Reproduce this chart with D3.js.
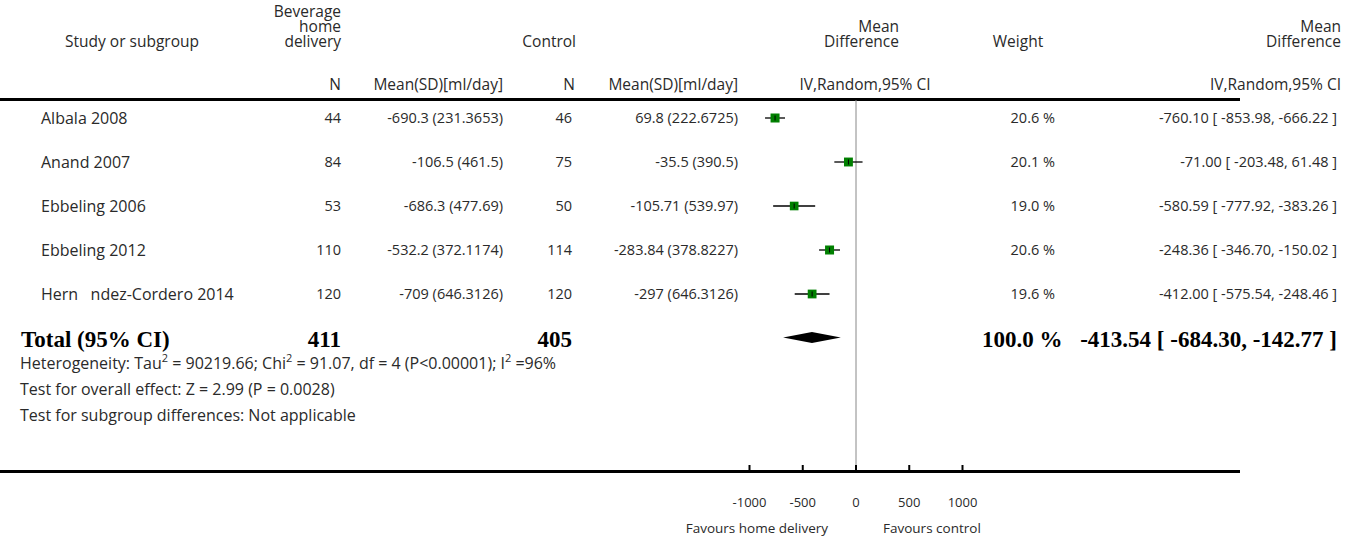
<!DOCTYPE html>
<html>
<head>
<meta charset="utf-8">
<title>Forest plot</title>
<script src="https://cdn.jsdelivr.net/npm/d3@7"></script>
<style>
  body { margin: 0; background: #fff; }
  svg text { font-family: "Open Sans", Lato, sans-serif; fill: #2a2a2a; white-space: pre; }
  svg text.bold { font-family: "Liberation Serif", serif; font-weight: bold; fill: #000; }
</style>
</head>
<body>
<div id="plot"></div>
<script>
// 各研究のデータ
var studies = ["Albala 2008", "Anand 2007", "Ebbeling 2006", "Ebbeling 2012", "Hern   ndez-Cordero 2014"];
var nTreat = [44, 84, 53, 110, 120];
var meanSdTreat = ["-690.3 (231.3653)", "-106.5 (461.5)", "-686.3 (477.69)", "-532.2 (372.1174)", "-709 (646.3126)"];
var nCtrl = [46, 75, 50, 114, 120];
var meanSdCtrl = ["69.8 (222.6725)", "-35.5 (390.5)", "-105.71 (539.97)", "-283.84 (378.8227)", "-297 (646.3126)"];
var md = [-760.10, -71.00, -580.59, -248.36, -412.00];
var ciLow = [-853.98, -203.48, -777.92, -346.70, -575.54];
var ciHigh = [-666.22, 61.48, -383.26, -150.02, -248.46];
var weights = [20.6, 20.1, 19.0, 20.6, 19.6];

// 合計
var totalN = [411, 405];
var totalMd = [-413.54, -684.30, -142.77];   // 推定値, 下限, 上限
var totalWeight = 100.0;

var axisTicks = [-1000, -500, 0, 500, 1000];
var notes = [
  "Heterogeneity: Tau\u00b2 = 90219.66; Chi\u00b2 = 91.07, df = 4 (P<0.00001); I\u00b2 =96%",
  "Test for overall effect: Z = 2.99 (P = 0.0028)",
  "Test for subgroup differences: Not applicable"
];
var favours = ["Favours home delivery", "Favours control"];

var W = 1357, H = 539;
var fsText = 16, fsHead = 15.5, fsNum = 14.5, fsBold = 23;
var svg = d3.select("#plot").append("svg").attr("width", W).attr("height", H);

var x = d3.scaleLinear().domain([-1000, 1000]).range([749.5, 962.5]);
var rowY = d3.scalePoint().domain(d3.range(studies.length)).range([118, 294]);
var boxSize = d3.scaleSqrt().domain([0, 20.6]).range([0, 9]);
function f2(v) { return v.toFixed(2); }
function ci(m, l, h) { return f2(m) + " [ " + f2(l) + ", " + f2(h) + " ]"; }

function txt(xp, yp, s, anchor, size, cls) {
  return svg.append("text")
    .attr("x", xp).attr("y", yp)
    .attr("dy", "0.35em")
    .attr("text-anchor", anchor || "start")
    .attr("class", cls || null)
    .style("font-size", size + "px")
    .text(s);
}

// 見出し
var h1 = 12, h2 = 27, h3 = 42;
txt(132, h3, "Study or subgroup", "middle", fsHead);
txt(341, h1, "Beverage", "end", fsHead);
txt(341, h2, "home", "end", fsHead);
txt(341, h3, "delivery", "end", fsHead);
txt(341, 85, "N", "end", fsHead);
txt(503, 85, "Mean(SD)[ml/day]", "end", fsHead);
txt(576, h3, "Control", "end", fsHead);
txt(575, 85, "N", "end", fsHead);
txt(738, 85, "Mean(SD)[ml/day]", "end", fsHead);
txt(899, h2, "Mean", "end", fsHead);
txt(899, h3, "Difference", "end", fsHead);
txt(865, 85, "IV,Random,95% CI", "middle", fsHead);
txt(1018, h3, "Weight", "middle", fsHead);
txt(1341, h2, "Mean", "end", fsHead);
txt(1341, h3, "Difference", "end", fsHead);
txt(1341, 85, "IV,Random,95% CI", "end", fsHead);

// 罫線
svg.append("line").attr("x1", 0).attr("x2", 1240).attr("y1", 99.5).attr("y2", 99.5)
  .attr("stroke", "#000").attr("stroke-width", 3);

// ゼロ線
svg.append("line").attr("x1", x(0)).attr("x2", x(0)).attr("y1", 100).attr("y2", 471)
  .attr("stroke", "#888").attr("stroke-width", 1);

// 各研究の行
studies.forEach(function (s, i) {
  var y = rowY(i);
  txt(41, y, s, "start", fsText);
  txt(341, y, String(nTreat[i]), "end", fsNum);
  txt(503, y, meanSdTreat[i], "end", fsNum);
  txt(572, y, String(nCtrl[i]), "end", fsNum);
  txt(738, y, meanSdCtrl[i], "end", fsNum);
  txt(1055, y, weights[i].toFixed(1) + " %", "end", fsNum);
  txt(1337, y, ci(md[i], ciLow[i], ciHigh[i]), "end", fsNum);

  svg.append("line")
    .attr("x1", x(ciLow[i])).attr("x2", x(ciHigh[i]))
    .attr("y1", y).attr("y2", y)
    .attr("stroke", "#000").attr("stroke-width", 1.3);
  var b = boxSize(weights[i]);
  svg.append("rect")
    .attr("x", x(md[i]) - b / 2).attr("y", y - b / 2)
    .attr("width", b).attr("height", b)
    .attr("fill", "#008000");
  svg.append("line")
    .attr("x1", x(md[i])).attr("x2", x(md[i]))
    .attr("y1", y - 2.5).attr("y2", y + 2.5)
    .attr("stroke", "#000").attr("stroke-width", 1);
});

// 合計行
var ty = 339;
txt(21, ty, "Total (95% CI)", "start", fsBold, "bold");
txt(341, ty, String(totalN[0]), "end", fsBold, "bold");
txt(572, ty, String(totalN[1]), "end", fsBold, "bold");
txt(982, ty, totalWeight.toFixed(1) + " %", "start", fsBold, "bold");
txt(1337, ty, ci(totalMd[0], totalMd[1], totalMd[2]), "end", fsBold, "bold");

svg.append("path")
  .attr("d", d3.line()([
    [x(totalMd[1]), 337.5],
    [x(totalMd[0]), 332],
    [x(totalMd[2]), 337.5],
    [x(totalMd[0]), 343]
  ]) + "Z")
  .attr("fill", "#000");

// 注記
notes.forEach(function (n, i) {
  var t = txt(20, 363 + i * 26, "", "start", fsText);
  // 上付き文字を扱う
  var parts = n.split("\u00b2");
  parts.forEach(function (p, k) {
    t.append("tspan").text(p);
    if (k < parts.length - 1) {
      t.append("tspan").attr("baseline-shift", "super").style("font-size", "11px").text("2");
    }
  });
});

// 軸
svg.append("line").attr("x1", 0).attr("x2", 1240).attr("y1", 471.5).attr("y2", 471.5)
  .attr("stroke", "#000").attr("stroke-width", 3);
axisTicks.forEach(function (t) {
  svg.append("line").attr("x1", x(t)).attr("x2", x(t)).attr("y1", 465).attr("y2", 471)
    .attr("stroke", "#000").attr("stroke-width", 2);
  txt(x(t), 502, t.toFixed(0), "middle", 13);
});
txt(828, 528, favours[0], "end", 13.5);
txt(883, 528, favours[1], "start", 13.5);
</script>
</body>
</html>
